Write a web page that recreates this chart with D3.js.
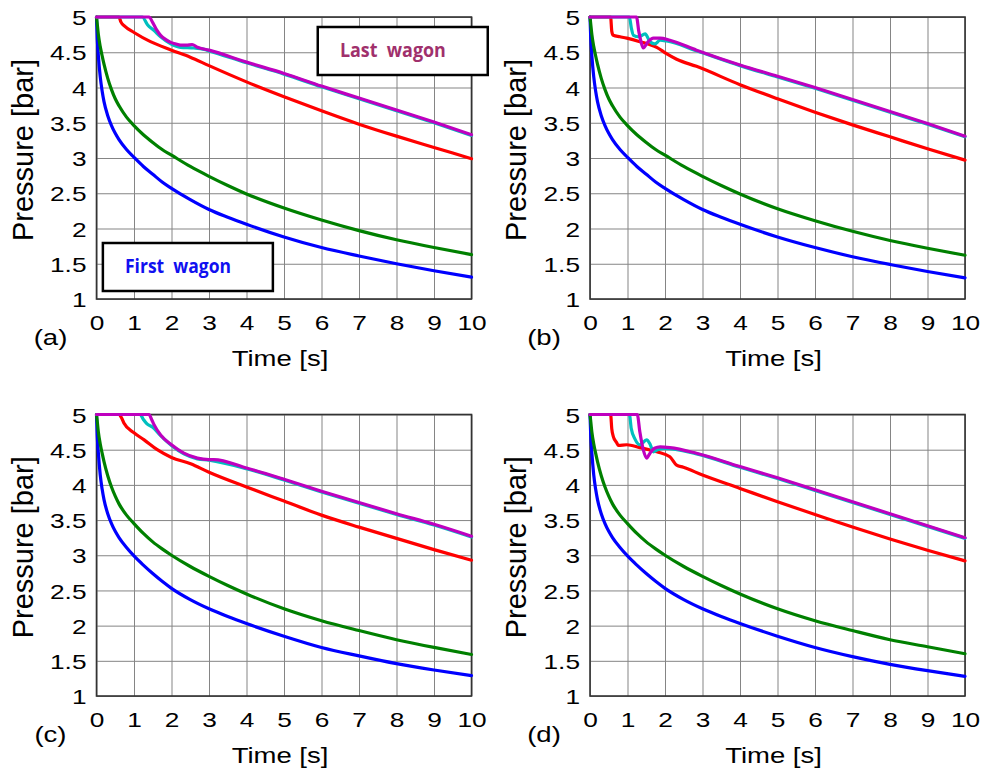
<!DOCTYPE html>
<html><head><meta charset="utf-8">
<script src="https://cdn.jsdelivr.net/npm/d3@7"></script>
<style>body{margin:0;background:#fff}svg{display:block}</style>
</head><body>
<svg id="chart" width="983" height="769"></svg>
<script>
// ---------- data ----------
const xTicks = [0,1,2,3,4,5,6,7,8,9,10];
const yTicks = [1,1.5,2,2.5,3,3.5,4,4.5,5];
const yTickLabels = ["1","1.5","2","2.5","3","3.5","4","4.5","5"];
const panelLabels = ["(a)","(b)","(c)","(d)"];
const seriesNames = ["First wagon","wagon 2","wagon 3","wagon 4","Last wagon"];
const seriesColors = ["#0000FF","#008000","#FF0000","#00BFBF","#BF00BF"];

// common time grid for the two fast-decaying wagons
const tDecay = [0,0.02,0.05,0.1,0.15,0.2,0.3,0.4,0.5,0.6,0.8,1.0,1.25,1.5,1.75,2,2.5,3,3.5,4,5,6,7,8,9,10];

// panel (a)
const a_blue  = [5,4.7,4.45,4.15,3.95,3.8,3.6,3.46,3.35,3.26,3.12,3.01,2.88,2.77,2.66,2.57,2.41,2.27,2.16,2.06,1.88,1.73,1.61,1.50,1.40,1.31];
const a_green = [5,4.9,4.75,4.58,4.45,4.33,4.13,3.97,3.84,3.74,3.58,3.46,3.33,3.22,3.12,3.04,2.88,2.74,2.61,2.49,2.29,2.12,1.97,1.84,1.73,1.63];
const a_red_t = [0,0.6,0.65,0.75,1.0,1.44,2.0,2.5,3,4,5,6,7,8,9,10];
const a_red   = [5,5,4.93,4.87,4.78,4.65,4.53,4.43,4.31,4.08,3.87,3.67,3.48,3.31,3.15,2.99];
const a_cyan_t = [0,1.22,1.36,1.53,1.71,1.98,2.24,2.6,2.87,3,4,5,6,7,8,9,10];
const a_cyan   = [5,5,4.89,4.81,4.72,4.62,4.57,4.56,4.54,4.52,4.35,4.19,4.01,3.84,3.67,3.50,3.32];
const a_mag_t = [0,1.4,1.5,1.6,1.71,1.85,1.98,2.1,2.24,2.4,2.55,2.69,3,4,5,6,7,8,9,10];
const a_mag   = [5,5,4.92,4.82,4.74,4.68,4.64,4.62,4.60,4.60,4.61,4.57,4.53,4.36,4.20,4.02,3.85,3.68,3.51,3.33];

// panel (b)
const b_blue  = [5,4.7,4.45,4.15,3.95,3.8,3.6,3.46,3.35,3.26,3.12,3.01,2.88,2.77,2.66,2.57,2.41,2.27,2.16,2.06,1.88,1.73,1.60,1.49,1.39,1.30];
const b_green = [5,4.9,4.75,4.58,4.45,4.33,4.13,3.97,3.84,3.74,3.58,3.46,3.33,3.22,3.12,3.04,2.88,2.74,2.61,2.49,2.28,2.11,1.96,1.83,1.72,1.62];
const b_red_t = [0,0.55,0.58,0.62,0.8,0.98,1.33,1.78,2.04,2.31,2.84,4,5,6,7,8,9,10];
const b_red   = [5,5,4.8,4.74,4.72,4.70,4.65,4.57,4.48,4.40,4.30,4.04,3.84,3.65,3.47,3.30,3.13,2.97];
const b_cyan_t = [0,1.05,1.1,1.16,1.3,1.47,1.6,1.73,1.87,2.04,2.84,4,5,6,7,8,9,10];
const b_cyan   = [5,5,4.85,4.74,4.72,4.76,4.65,4.62,4.67,4.66,4.52,4.31,4.15,3.99,3.82,3.65,3.48,3.30];
const b_mag_t = [0,1.24,1.3,1.36,1.42,1.55,1.69,1.87,2.13,2.84,4,5,6,7,8,9,10];
const b_mag   = [5,5,4.8,4.65,4.56,4.65,4.70,4.70,4.67,4.53,4.32,4.16,4.0,3.83,3.66,3.49,3.31];

// panel (c)
const c_blue  = [5,4.7,4.45,4.14,3.94,3.79,3.59,3.45,3.34,3.25,3.11,2.99,2.86,2.74,2.63,2.53,2.37,2.24,2.13,2.03,1.85,1.69,1.57,1.46,1.37,1.29];
const c_green = [5,4.9,4.75,4.58,4.45,4.33,4.13,3.97,3.84,3.73,3.57,3.45,3.31,3.19,3.09,3.0,2.84,2.70,2.57,2.45,2.24,2.07,1.93,1.80,1.69,1.59];
const c_red_t = [0,0.6,0.67,0.73,1.0,1.27,1.62,2.0,2.51,3,4,5,6,7,8,9,10];
const c_red   = [5,5,4.95,4.88,4.74,4.64,4.50,4.39,4.30,4.18,3.97,3.77,3.57,3.40,3.24,3.08,2.93];
const c_cyan_t = [0,1.16,1.25,1.34,1.5,1.71,2.0,2.33,2.69,3.0,4,5,6,7,8,9,10];
const c_cyan   = [5,5,4.93,4.87,4.82,4.70,4.56,4.44,4.37,4.35,4.23,4.07,3.90,3.74,3.58,3.43,3.26];
const c_mag_t = [0,1.4,1.47,1.53,1.71,2.0,2.33,2.69,3.0,3.13,4,5,6,7,8,9,10];
const c_mag   = [5,5,4.93,4.86,4.71,4.57,4.45,4.38,4.36,4.36,4.24,4.08,3.91,3.75,3.59,3.44,3.27];

// panel (d)
const d_blue  = [5,4.7,4.45,4.14,3.94,3.79,3.59,3.45,3.34,3.25,3.11,2.99,2.86,2.74,2.63,2.53,2.37,2.24,2.13,2.03,1.85,1.69,1.56,1.45,1.36,1.28];
const d_green = [5,4.9,4.75,4.58,4.45,4.33,4.13,3.97,3.84,3.73,3.57,3.45,3.31,3.19,3.09,3.0,2.84,2.70,2.57,2.45,2.24,2.07,1.93,1.80,1.70,1.60];
const d_red_t = [0,0.55,0.58,0.62,0.71,0.76,0.98,1.33,1.78,2.13,2.31,2.49,3,4,5,6,7,8,9,10];
const d_red   = [5,5,4.8,4.69,4.6,4.56,4.57,4.53,4.47,4.40,4.28,4.25,4.14,3.95,3.76,3.58,3.40,3.23,3.07,2.92];
const d_cyan_t = [0,1.05,1.1,1.2,1.33,1.51,1.6,1.69,1.8,2.0,2.84,4,5,6,7,8,9,10];
const d_cyan   = [5,5,4.8,4.65,4.57,4.64,4.58,4.47,4.5,4.52,4.44,4.25,4.09,3.92,3.75,3.58,3.41,3.24];
const d_mag_t = [0,1.26,1.33,1.42,1.51,1.6,1.72,1.87,2.13,2.84,4,5,6,7,8,9,10];
const d_mag   = [5,5,4.75,4.5,4.38,4.45,4.52,4.54,4.53,4.45,4.26,4.10,3.93,3.76,3.59,3.42,3.25];

// ---------- build ----------
const panelSeries = [
  [[tDecay,a_blue],[tDecay,a_green],[a_red_t,a_red],[a_cyan_t,a_cyan],[a_mag_t,a_mag]],
  [[tDecay,b_blue],[tDecay,b_green],[b_red_t,b_red],[b_cyan_t,b_cyan],[b_mag_t,b_mag]],
  [[tDecay,c_blue],[tDecay,c_green],[c_red_t,c_red],[c_cyan_t,c_cyan],[c_mag_t,c_mag]],
  [[tDecay,d_blue],[tDecay,d_green],[d_red_t,d_red],[d_cyan_t,d_cyan],[d_mag_t,d_mag]]
];
const layout = [
  {x:96.5, y:17,    h:282},
  {x:590,  y:17,    h:282},
  {x:96.5, y:414.5, h:281.5},
  {x:590,  y:414.5, h:281.5}
];
const PW = 375;
const SX = 1.25; // horizontal stretch of the reference's lettering
const FONT = "'Liberation Sans', Arial, Helvetica, sans-serif";

const svg = d3.select("#chart");

layout.forEach((L, i) => {
  const g = svg.append("g").attr("transform", `translate(${L.x},${L.y})`);
  const x = d3.scaleLinear().domain([0,10]).range([0,PW]);
  const y = d3.scaleLinear().domain([1,5]).range([L.h,0]);

  const xa = g.append("g").attr("transform", `translate(0,${L.h})`)
    .call(d3.axisBottom(x).tickValues(xTicks).tickFormat(d3.format("d")).tickSize(-L.h).tickPadding(16));
  const ya = g.append("g")
    .call(d3.axisLeft(y).tickValues(yTicks).tickFormat((d,k)=>yTickLabels[k]).tickSize(-PW).tickPadding(8));
  [xa, ya].forEach(ax => {
    ax.select(".domain").remove();
    ax.selectAll(".tick line").attr("stroke","#858585").attr("stroke-width",1);
    ax.selectAll(".tick text").attr("fill","#000").style("font-family",FONT).style("font-size","21px");
  });
  xa.selectAll(".tick text").attr("transform",`scale(${SX},1)`);
  ya.selectAll(".tick text").attr("transform",`scale(${SX},1)`).attr("dy","0.36em");

  g.append("rect").attr("width",PW).attr("height",L.h)
    .attr("fill","none").attr("stroke","#333").attr("stroke-width",1.6);

  const line = d3.line().x(d=>x(d[0])).y(d=>y(d[1])).curve(d3.curveMonotoneX);
  panelSeries[i].forEach((s, k) => {
    const pts = s[0].map((t,j)=>[t, s[1][j]]);
    g.append("path").datum(pts).attr("d",line)
      .attr("fill","none").attr("stroke",seriesColors[k])
      .attr("stroke-width",3.2).attr("stroke-linejoin","round").attr("stroke-linecap","round");
  });

  g.append("text").attr("transform",`translate(${PW/2-4},${L.h+67}) scale(${SX},1)`)
    .attr("text-anchor","middle").style("font-family",FONT).style("font-size","22px").text("Time [s]");
  g.append("text").attr("transform",`translate(-64,${L.h/2-8}) rotate(-90)`)
    .attr("text-anchor","middle").style("font-family",FONT).style("font-size","29px").text("Pressure [bar]");
  g.append("text").attr("transform",`translate(-46,${L.h+46}) scale(${SX},1)`)
    .attr("text-anchor","middle").style("font-family",FONT).style("font-size","22px").text(panelLabels[i]);

  if (i === 0) {
    const boxes = [
      {name: seriesNames[4], color:"#A0306C", bx: x(5.9), by: 10, tx: x(6.49), ty: 40},
      {name: seriesNames[0], color:"#1010F0", bx: x(0.17), by: 226, tx: x(0.76), ty: 256}
    ];
    boxes.forEach(b => {
      g.append("rect").attr("x",b.bx).attr("y",b.by).attr("width",170).attr("height",48)
        .attr("fill","#fff").attr("stroke","#000").attr("stroke-width",2.5);
      g.append("text").attr("x",b.tx).attr("y",b.ty)
        .attr("fill",b.color).style("font-family","'Open Sans', 'Noto Sans', sans-serif")
        .style("font-weight","700").style("font-size","19.5px")
        .attr("textLength",106).attr("lengthAdjust","spacingAndGlyphs")
        .attr("xml:space","preserve").text(b.name.replace(" ","  "));
    });
  }
});
</script>
</body></html>
